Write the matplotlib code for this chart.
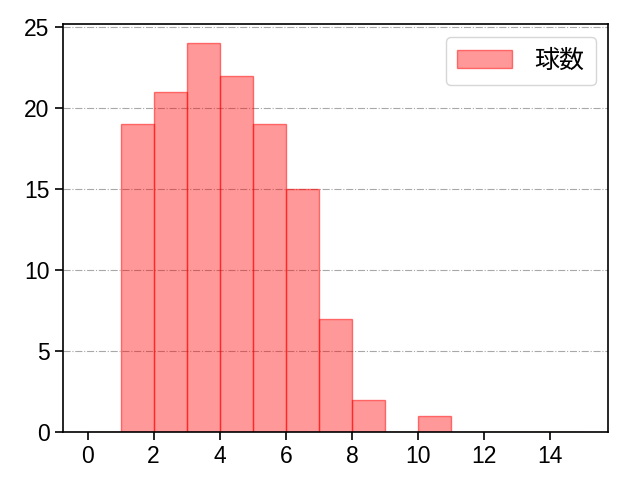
import numpy as np
import matplotlib
matplotlib.use("Agg")
import matplotlib.pyplot as plt

plt.rcParams['font.family'] = ['Liberation Sans', 'Noto Sans CJK JP', 'DejaVu Sans']

# pitch count histogram, one bin per unit from 0 to 15
bin_edges = list(range(0, 16))
bin_counts = [0, 19, 21, 24, 22, 19, 15, 7, 2, 0, 1, 0, 0, 0, 0]
series_label = "球数"

fig, ax = plt.subplots(figsize=(6.4, 4.8), dpi=100)
fig.subplots_adjust(left=0.098, right=0.95, top=0.95, bottom=0.1)

ax.hist(bin_edges[:-1], bins=bin_edges, weights=bin_counts,
        color=(1, 0, 0, 0.4), edgecolor=(1, 0, 0, 0.5), linewidth=1,
        label=series_label)

ax.set_xticks(range(0, 15, 2))
ax.tick_params(labelsize=16.5, length=6, width=1.2)
for s in ax.spines.values():
    s.set_linewidth(1.2)
ax.grid(axis='y', linestyle='-.', color='#a8a8a8', linewidth=0.8)
ax.set_axisbelow(True)
ax.legend(loc='upper right', prop={'family': ['Noto Sans CJK JP'], 'size': 18},
          handlelength=2.2, handletextpad=0.9, borderpad=0.45)

fig.savefig("out.png")
